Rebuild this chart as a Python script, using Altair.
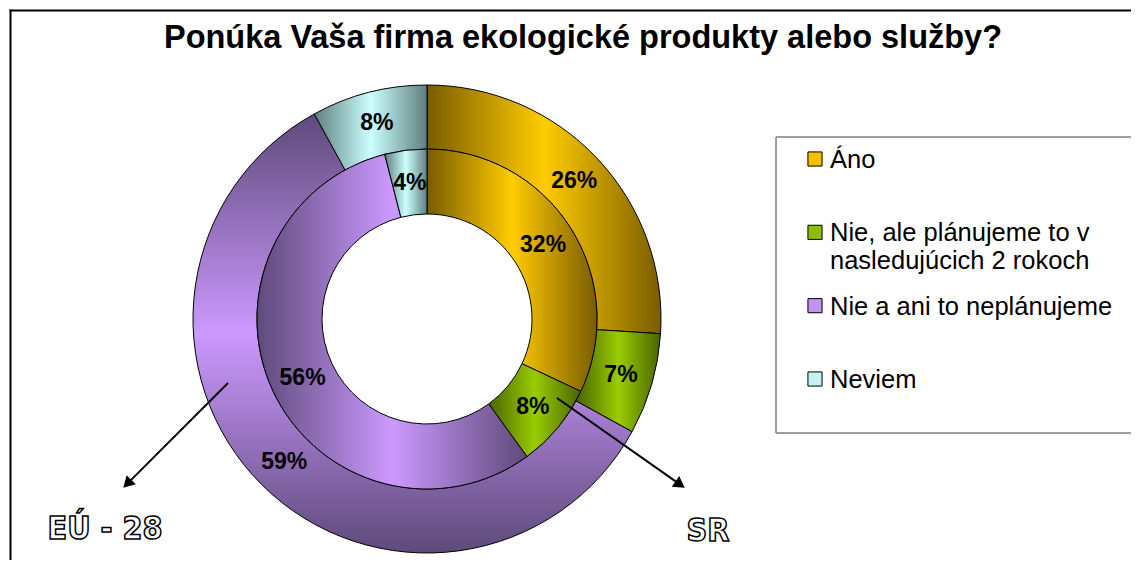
import math
import altair as alt
import pandas as pd

# ---------------- data ----------------
categories = [
    "Áno",
    "Nie, ale plánujeme to v\nnasledujúcich 2 rokoch",
    "Nie a ani to neplánujeme",
    "Neviem",
]
eu_values = [26, 7, 59, 8]   # outer ring (EÚ - 28)
sr_values = [32, 8, 56, 4]   # inner ring (SR)
rings = ["EÚ - 28", "SR"]
title_text = "Ponúka Vaša firma ekologické produkty alebo služby?"

rows = []
for ring, vals in zip(rings, [eu_values, sr_values]):
    for i, (c, v) in enumerate(zip(categories, vals)):
        rows.append({"ring": ring, "cat": c, "order": i, "value": v})
df = pd.DataFrame(rows)
legend_df = pd.DataFrame({"cat": categories, "idx": list(range(len(categories)))})
one = pd.DataFrame({"k": [0]})

# ---------------- style ----------------
W, H = 1123, 552
CX, CY = 419, 311
R_OUT, R_MID, R_IN = 234, 170, 105
FONT = "Liberation Sans, Arial, sans-serif"

light = ["#FFCC00", "#99CC00", "#CC99FF", "#CCFFFF"]
dark = ["#7A5C00", "#4A6300", "#5E4A7A", "#5F7F7F"]
swatch = ["#F2C200", "#8CBF00", "#C092F2", "#C4F2F2"]


def grad(i, vertical=False, stops=(0.0, 0.5, 1.0)):
    cols = [dark[i], light[i], dark[i]]
    return alt.LinearGradient(
        gradient="linear",
        stops=[alt.GradientStop(color=c, offset=o) for c, o in zip(cols, stops)],
        x1=0, y1=0,
        x2=0 if vertical else 1,
        y2=1 if vertical else 0,
    )


theta_scale = alt.Scale(domain=[0, 100], range=[0, 2 * math.pi])

base = (
    alt.Chart(df)
    .transform_window(cum="sum(value)", groupby=["ring"],
                      sort=[alt.SortField("order")], frame=[None, 0])
    .transform_calculate(start="datum.cum - datum.value",
                         mid="datum.cum - datum.value / 2",
                         label="datum.value + '%'")
)

layers = []


def hline(x0, x1, y, color, w):
    return alt.Chart(one).mark_rule(color=color, strokeWidth=w).encode(
        x=alt.value(x0), x2=alt.value(x1), y=alt.value(y))


def vline(x, y0, y1, color, w):
    return alt.Chart(one).mark_rule(color=color, strokeWidth=w).encode(
        x=alt.value(x), y=alt.value(y0), y2=alt.value(y1))


# outer frame: only its top and left edges fall inside the picture
layers.append(hline(1.5, W + 20, 2.5, "black", 2))
layers.append(vline(2.5, 1.5, H + 20, "black", 2))

# legend box (its right edge lies outside the picture)
layers.append(hline(768, W + 20, 129, "#7f7f7f", 1.5))
layers.append(hline(768, W + 20, 425, "#7f7f7f", 1.5))
layers.append(vline(768, 129, 425, "#7f7f7f", 1.5))

# arcs
ring_radii = {"EÚ - 28": (R_OUT, R_MID), "SR": (R_MID, R_IN)}
for ring in rings:
    ro, ri = ring_radii[ring]
    for i in range(len(categories)):
        vertical = (ring == "EÚ - 28" and i == 2)
        g = grad(i, vertical=vertical)
        arc = (
            base.transform_filter((alt.datum.ring == ring) & (alt.datum.order == i))
            .mark_arc(radius=ro, radius2=ri, fill=g, stroke="black", strokeWidth=1)
            .encode(
                theta=alt.Theta("start:Q", scale=theta_scale),
                theta2=alt.Theta2("cum:Q"),
                x=alt.value(CX), y=alt.value(CY),
            )
        )
        layers.append(arc)

# percentage labels
for ring in rings:
    ro, ri = ring_radii[ring]
    lab = (
        base.transform_filter(alt.datum.ring == ring)
        .mark_text(radius=(ro + ri) / 2, font=FONT, fontSize=23, fontWeight="bold",
                   color="black", align="center", baseline="middle")
        .encode(
            theta=alt.Theta("mid:Q", scale=theta_scale, stack=False),
            text=alt.Text("label:N"),
            x=alt.value(CX), y=alt.value(CY),
        )
    )
    layers.append(lab)

# arrows
def arrow(x0, y0, x1, y1):
    dx, dy = x1 - x0, y1 - y0
    L = math.hypot(dx, dy)
    ux, uy = dx / L, dy / L
    ang = math.degrees(math.atan2(ux, -uy)) % 360
    line = alt.Chart(one).mark_rule(color="black", strokeWidth=2).encode(
        x=alt.value(x0), y=alt.value(y0),
        x2=alt.value(x1 - ux * 8), y2=alt.value(y1 - uy * 8))
    head = alt.Chart(one).mark_point(shape="triangle-up", filled=True, color="black",
                                     opacity=1, size=170, angle=ang).encode(
        x=alt.value(x1 - ux * 6), y=alt.value(y1 - uy * 6))
    return [line, head]

layers += arrow(220, 375, 115, 480)
layers += arrow(549, 390, 677, 480)

# ring names (outlined text)
for name, xx, yy in [(rings[0], 97, 531), (rings[1], 700, 533)]:
    layers.append(
        alt.Chart(pd.DataFrame({"t": [name]})).mark_text(
            font="Liberation Sans Narrow, DejaVu Sans Condensed, Arial Narrow, sans-serif",
            fontSize=32, fontWeight="bold", fill="white", stroke="black", strokeWidth=1.5,
            align="center", baseline="alphabetic")
        .encode(text="t:N", x=alt.value(xx), y=alt.value(yy))
    )

# legend (custom)
legend_y = alt.Y("idx:Q", scale=alt.Scale(domain=[0, 3], range=[151, 371]), axis=None)
leg_sq = alt.Chart(legend_df).mark_square(size=200, stroke="black", strokeWidth=1, opacity=1).encode(
    x=alt.value(807), y=legend_y,
    fill=alt.Fill("cat:N", scale=alt.Scale(domain=categories, range=swatch), legend=None),
)
leg_tx = alt.Chart(legend_df).mark_text(
    font=FONT, fontSize=25.5, align="left", baseline="top", dy=-11,
    lineBreak="\n", lineHeight=28, color="black",
).encode(x=alt.value(822), y=legend_y, text="cat:N")
layers += [leg_sq, leg_tx]

# title
layers.append(
    alt.Chart(pd.DataFrame({"t": [title_text]})).mark_text(
        font=FONT, fontSize=32.5, fontWeight="bold", color="black",
        align="center", baseline="alphabetic")
    .encode(text="t:N", x=alt.value(575), y=alt.value(40))
)

chart = (
    alt.layer(*layers)
    .properties(width=W, height=H, padding=0,
                autosize=alt.AutoSizeParams(type="none"), background="white")
    .configure_view(strokeWidth=0, strokeOpacity=0)
)

chart.save("out.html", embed_options={"renderer": "svg", "actions": False})
